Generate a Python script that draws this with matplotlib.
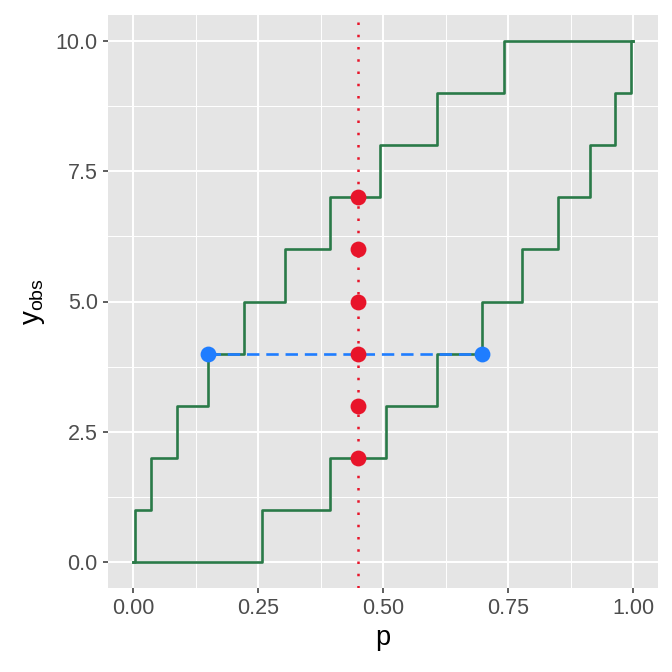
import matplotlib
matplotlib.use("Agg")
import matplotlib.pyplot as plt
import numpy as np

plt.rcParams['font.family'] = ['Liberation Sans', 'DejaVu Sans']
plt.rcParams['mathtext.fontset'] = 'custom'
plt.rcParams['mathtext.rm'] = 'Liberation Sans'
plt.rcParams['mathtext.it'] = 'Liberation Sans'

# Step curves (post-step): p where y increases
upper_p = [0.0, 0.004, 0.036, 0.087, 0.150, 0.222, 0.304, 0.393, 0.494, 0.607, 0.742, 1.0]
upper_y = [0, 1, 2, 3, 4, 5, 6, 7, 8, 9, 10, 10]
lower_p = [0.0, 0.258, 0.393, 0.506, 0.607, 0.697, 0.778, 0.850, 0.913, 0.964, 0.996, 1.0]
lower_y = [0, 1, 2, 3, 4, 5, 6, 7, 8, 9, 10, 10]

# Confidence interval for y_obs = 4
ci_p = [0.150, 0.697]
ci_y = [4, 4]

# Acceptance region at p = 0.45
p_true = 0.45
acc_y = [2, 3, 4, 5, 6, 7]

x_ticks = [0.0, 0.25, 0.5, 0.75, 1.0]
x_labels = ["0.00", "0.25", "0.50", "0.75", "1.00"]
y_ticks = [0.0, 2.5, 5.0, 7.5, 10.0]
y_labels = ["0.0", "2.5", "5.0", "7.5", "10.0"]

green = "#2A7A48"
blue = "#1F7DFF"
red = "#E8142A"

fig = plt.figure(figsize=(6.72, 6.72), dpi=100)
ax = fig.add_axes([108/672, 1 - 588/672, (658-108)/672, (588-15)/672])
ax.set_facecolor("#E5E5E5")
for s in ax.spines.values():
    s.set_visible(False)

ax.set_xlim(-0.05, 1.05)
ax.set_ylim(-0.5, 10.5)
ax.set_xticks(x_ticks)
ax.set_xticklabels(x_labels)
ax.set_yticks(y_ticks)
ax.set_yticklabels(y_labels)
ax.set_xticks([0.125, 0.375, 0.625, 0.875], minor=True)
ax.set_yticks([1.25, 3.75, 6.25, 8.75], minor=True)
ax.grid(which="major", color="white", linewidth=1.4)
ax.grid(which="minor", color="white", linewidth=0.7)
ax.set_axisbelow(True)
ax.tick_params(which="major", length=3.9, width=1.1, color="#333333",
               labelsize=15.5, labelcolor="#4D4D4D", pad=3.5)
ax.tick_params(which="minor", length=0)

ax.step(upper_p, upper_y, where="post", color=green, lw=1.9, zorder=2)
ax.step(lower_p, lower_y, where="post", color=green, lw=1.9, zorder=2)

ax.axvline(p_true, color=red, lw=1.8, linestyle=(0, (1, 3.9)), zorder=3)
ax.plot(ci_p, ci_y, color=blue, lw=1.9, linestyle=(0, (4.7, 2.6)), zorder=3)

ax.scatter([p_true] * len(acc_y), acc_y, s=130, color=red, zorder=4, linewidths=0)
ax.scatter(ci_p, ci_y, s=130, color=blue, zorder=4, linewidths=0)

ax.set_xlabel("p", fontsize=19.5, color="black", labelpad=4)
ax.set_ylabel(r"$\mathregular{y_{obs}}$", fontsize=20, color="black", labelpad=6)

fig.savefig("out.png", dpi=100)
